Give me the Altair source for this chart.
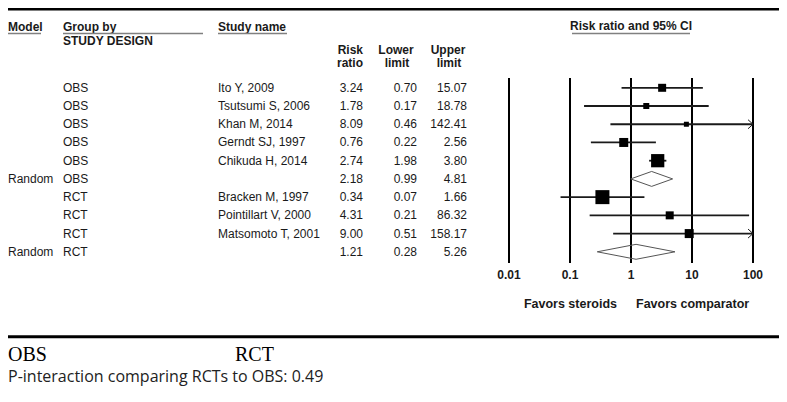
import altair as alt
import pandas as pd

# ---------------- data ----------------
models = ["", "", "", "", "", "Random", "", "", "", "Random"]
groups = ["OBS", "OBS", "OBS", "OBS", "OBS", "OBS", "RCT", "RCT", "RCT", "RCT"]
studies = ["Ito Y, 2009", "Tsutsumi S, 2006", "Khan M, 2014", "Gerndt SJ, 1997",
           "Chikuda H, 2014", "", "Bracken M, 1997", "Pointillart V, 2000",
           "Matsomoto T, 2001", ""]
risk_ratio = [3.24, 1.78, 8.09, 0.76, 2.74, 2.18, 0.34, 4.31, 9.00, 1.21]
lower_limit = [0.70, 0.17, 0.46, 0.22, 1.98, 0.99, 0.07, 0.21, 0.51, 0.28]
upper_limit = [15.07, 18.78, 142.41, 2.56, 3.80, 4.81, 1.66, 86.32, 158.17, 5.26]
is_summary = [False, False, False, False, False, True, False, False, False, True]
# relative study weights (drive square sizes)
weights = [6.4, 3.6, 2.5, 8.1, 17.5, 0.0, 19.6, 6.4, 8.1, 0.0]

tick_values = [0.01, 0.1, 1, 10, 100]
tick_labels = ["0.01", "0.1", "1", "10", "100"]

OFF = 8  # the page's 8px margin: layout positions below are given in page pixels


def px(v):
    return max(v - OFF, 0)


df = pd.DataFrame({
    "row": list(range(len(studies))),
    "model": models,
    "group": groups,
    "study": studies,
    "rr": risk_ratio,
    "lower": lower_limit,
    "upper": upper_limit,
    "summary": is_summary,
    "weight": weights,
})
df["upper_shown"] = df["upper"].clip(upper=100)
studies_df = df[~df["summary"]].copy()
arrows_df = df[df["upper"] > 100].copy()
arrows_df["tip"] = 100

# diamond outlines for the summary rows
dia = []
for _, r in df[df["summary"]].iterrows():
    pts = [(r["lower"], 0), (r["rr"], -0.41), (r["upper"], 0), (r["rr"], 0.41), (r["lower"], 0)]
    for k, (xv, dy) in enumerate(pts):
        dia.append({"id": r["row"], "ord": k, "x": xv, "y": r["row"] + dy})
dia_df = pd.DataFrame(dia)

ticks_df = pd.DataFrame({"v": tick_values, "lab": tick_labels})

xscale = alt.Scale(type="log", domain=[0.01, 100], range=[px(509), px(753)], nice=False)
yscale = alt.Scale(domain=[0, 9], range=[px(87.8), px(251.8)], zero=False, nice=False)

FONT = "Liberation Sans"
TXT = "#1a1a1a"


def one():
    return alt.Chart(alt.Data(values=[{"k": 1}]))


def label(txt, x, y, align="left", bold=True, size=12, font=FONT, color=TXT):
    return one().mark_text(text=txt, align=align, baseline="middle", font=font,
                           fontSize=size, fontWeight="bold" if bold else "normal",
                           color=color).encode(x=alt.value(px(x)), y=alt.value(px(y)))


def hline(x1, x2, y, color="#808080", width=1.5):
    return one().mark_rule(color=color, strokeWidth=width).encode(
        x=alt.value(px(x1)), x2=alt.value(px(x2)), y=alt.value(y))


base = alt.Chart(df)
Y = alt.Y("row:Q", scale=yscale, axis=None)

# table columns
tcol = dict(baseline="middle", font=FONT, fontSize=12, color=TXT)
t_model = base.mark_text(align="left", **tcol).encode(x=alt.value(px(3)), y=Y, text="model:N")
t_group = base.mark_text(align="left", **tcol).encode(x=alt.value(px(63)), y=Y, text="group:N")
t_study = base.mark_text(align="left", **tcol).encode(x=alt.value(px(218)), y=Y, text="study:N")
t_rr = base.mark_text(align="right", **tcol).encode(
    x=alt.value(px(363)), y=Y, text=alt.Text("rr:Q", format=".2f"))
t_lo = base.mark_text(align="right", **tcol).encode(
    x=alt.value(px(417)), y=Y, text=alt.Text("lower:Q", format=".2f"))
t_hi = base.mark_text(align="right", **tcol).encode(
    x=alt.value(px(467)), y=Y, text=alt.Text("upper:Q", format=".2f"))

# forest plot
X = lambda f: alt.X(f, scale=xscale, axis=None)
vlines = alt.Chart(ticks_df).mark_rule(color="black", strokeWidth=2).encode(
    x=X("v:Q"), y=alt.value(px(78)), y2=alt.value(px(263)))
tick_text = alt.Chart(ticks_df).mark_text(baseline="middle", align="center", font=FONT,
                                          fontSize=12, fontWeight="bold", color=TXT).encode(
    x=X("v:Q"), y=alt.value(px(275)), text="lab:N")

ci = alt.Chart(studies_df).mark_rule(color="#1a1a1a", strokeWidth=1.8).encode(
    x=X("lower:Q"), x2="upper_shown:Q", y=Y)
squares = alt.Chart(studies_df).mark_square(color="black", opacity=1, filled=True).encode(
    x=X("rr:Q"), y=Y,
    size=alt.Size("weight:Q", scale=alt.Scale(domain=[0, 20], range=[0, 200]), legend=None))
arrows = alt.Chart(arrows_df).mark_point(
    shape="M -1.1 -1 L 0 0 L -1.1 1", filled=False, color="#1a1a1a", strokeWidth=1,
    size=81, opacity=1).encode(x=X("tip:Q"), y=Y)
diamonds = alt.Chart(dia_df).mark_line(color="#555555", strokeWidth=1).encode(
    x=X("x:Q"), y=alt.Y("y:Q", scale=yscale, axis=None),
    detail="id:N", order="ord:Q")

layers = [
    hline(0, 800, 1.25, color="black", width=2.5),
    label("Model", 8, 27), hline(8, 41, px(33.5)),
    label("Group by", 63, 27), hline(63, 203, px(33.5)),
    label("STUDY DESIGN", 63, 41),
    label("Study name", 218, 27), hline(218, 287, px(33.5)),
    label("Risk", 363, 50, align="right"), label("ratio", 363, 63, align="right"),
    label("Lower", 396, 50, align="center"), label("limit", 397, 63, align="center"),
    label("Upper", 448, 50, align="center"), label("limit", 449, 63, align="center"),
    label("Risk ratio and 95% CI", 631, 26, align="center"), hline(572, 690, px(33.5)),
    t_model, t_group, t_study, t_rr, t_lo, t_hi,
    vlines, tick_text, ci, squares, arrows, diamonds,
    label("Favors steroids", 617, 304, align="right", size=12.5),
    label("Favors comparator", 636, 304, align="left", size=12.5),
    hline(0, 800, px(336.8), color="black", width=3),
    label("OBS", 0, 355, bold=False, size=20, font="Liberation Serif", color="black"),
    label("RCT", 235, 355, bold=False, size=20, font="Liberation Serif", color="black"),
    label("P-interaction comparing RCTs to OBS: 0.49", 0, 377, bold=False, size=16,
          font="Open Sans", color="#222222"),
]

chart = alt.layer(*layers).properties(
    width=787 - 2 * OFF, height=382,
    autosize=alt.AutoSizeParams(type="none"),
    padding=0,
    background="white",
).configure_view(stroke=None)

chart.save("out.html", embed_options={"renderer": "svg", "actions": False})
